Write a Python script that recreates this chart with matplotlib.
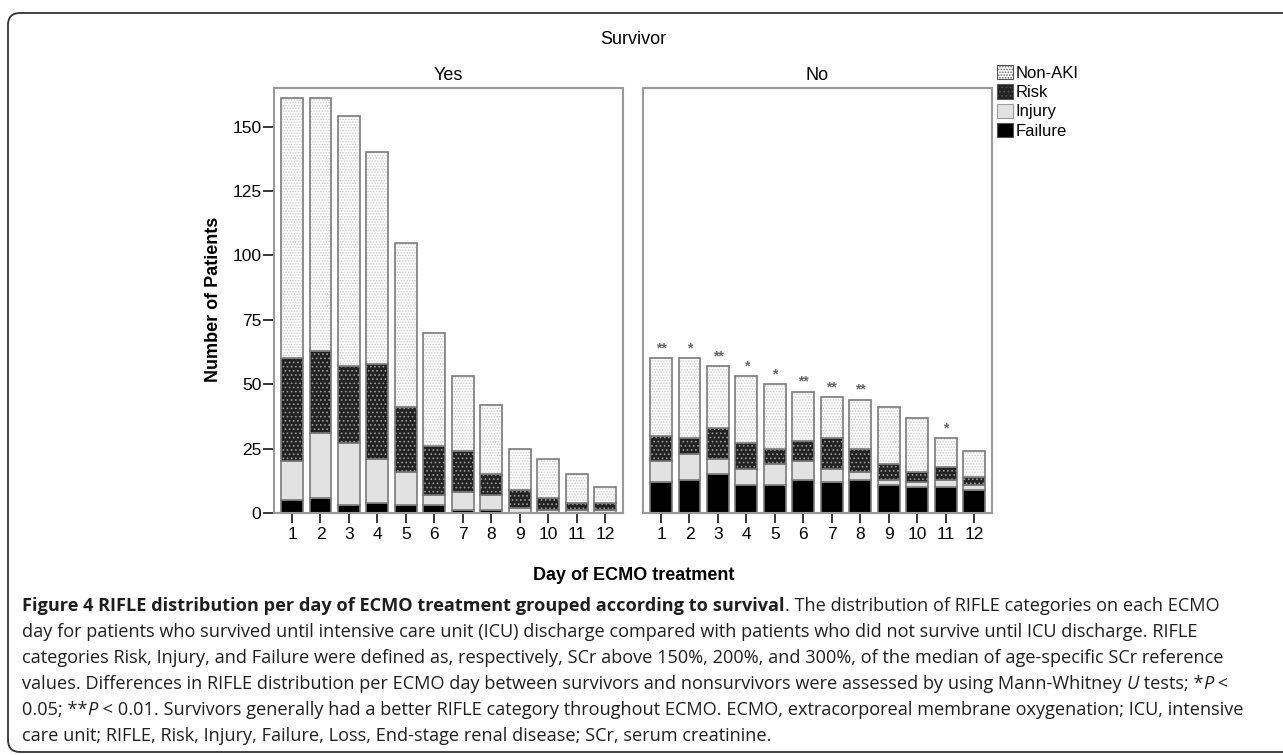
import matplotlib
matplotlib.use("Agg")
import matplotlib.pyplot as plt
from matplotlib.patches import Patch, FancyBboxPatch
from matplotlib.transforms import IdentityTransform

# ---- data ----
days = list(range(1, 13))
categories = ["Failure", "Injury", "Risk", "Non-AKI"]

# survivors: patients per RIFLE category per ECMO day
yes_failure = [5, 6, 3, 4, 3, 3, 1, 1, 0, 0, 0, 0]
yes_injury = [15, 25, 24, 17, 13, 4, 7, 6, 2, 1, 1, 1]
yes_risk = [40, 32, 30, 37, 25, 19, 16, 8, 7, 5, 3, 3]
yes_nonaki = [101, 98, 97, 82, 64, 44, 29, 27, 16, 15, 11, 6]

# nonsurvivors
no_failure = [12, 13, 15, 11, 11, 13, 12, 13, 11, 10, 10, 9]
no_injury = [8, 10, 6, 6, 8, 7, 5, 3, 2, 2, 3, 2]
no_risk = [10, 6, 12, 10, 6, 8, 12, 9, 6, 4, 5, 3]
no_nonaki = [30, 31, 24, 26, 25, 19, 16, 19, 22, 21, 11, 10]

# Mann-Whitney U significance per day
signif = ["**", "*", "**", "*", "*", "**", "**", "**", "", "", "*", ""]

yticks = [0, 25, 50, 75, 100, 125, 150]

# ---- styles ----
styles = {
    "Failure": dict(color="black", hatch=None, hatchcol="black"),
    "Injury": dict(color="#e2e2e2", hatch=None, hatchcol="#e2e2e2"),
    "Risk": dict(color="#222222", hatch="....", hatchcol="#9a9a9a"),
    "Non-AKI": dict(color="#fbfbfb", hatch="......", hatchcol="#cdcdcd"),
}
plt.rcParams["hatch.linewidth"] = 0.7
plt.rcParams["font.family"] = ["Liberation Sans", "DejaVu Sans"]

W, H = 1283, 755


def fx(x):
    return x / W


def fy(y):
    return 1 - y / H


def draw_panel(ax, segs, stars=None):
    """
    Stacked bars, drawn in two passes: pattern fill, then grey outline
    """
    bottom = [0] * len(days)
    for cat in categories:
        vals = segs[cat]
        st = styles[cat]
        ax.bar(days, vals, 0.77, bottom=bottom, color=st["color"],
               hatch=st["hatch"], edgecolor=st["hatchcol"], linewidth=0)
        ax.bar(days, vals, 0.77, bottom=bottom, fill=False,
               edgecolor="#7a7a7a", linewidth=1.2)
        bottom = [b + v for b, v in zip(bottom, vals)]

    if stars is not None:
        for d, tot, s in zip(days, bottom, stars):
            if s:
                ax.text(d, tot + 1.2, s, ha="center", va="bottom",
                        fontsize=10, color="#666666", fontweight="bold")

    ax.set_xlim(0.367, 12.63)
    ax.set_ylim(0, 165)
    ax.set_xticks(days)
    ax.tick_params(axis="x", length=7, width=1.1, color="black",
                   labelsize=12.5, pad=3)
    for sp in ax.spines.values():
        sp.set_color("#9a9a9a")
        sp.set_linewidth(1.5)


fig = plt.figure(figsize=(12.83, 7.55), dpi=100)

ax_yes = fig.add_axes([fx(274), fy(513), 349 / W, 425 / H])
ax_no = fig.add_axes([fx(643), fy(513), 349 / W, 425 / H])

draw_panel(ax_yes, {"Failure": yes_failure, "Injury": yes_injury,
                    "Risk": yes_risk, "Non-AKI": yes_nonaki})
draw_panel(ax_no, {"Failure": no_failure, "Injury": no_injury,
                   "Risk": no_risk, "Non-AKI": no_nonaki}, signif)

ax_yes.set_yticks(yticks)
ax_yes.tick_params(axis="y", length=8, width=1.1, color="black",
                   labelsize=12.5, pad=1)
ax_no.set_yticks([])

# panel headers
ax_yes.set_title("Yes", fontsize=13, pad=6)
ax_no.set_title("No", fontsize=13, pad=6)
fig.text(fx(633), fy(40), "Survivor", fontsize=13, ha="center", va="center")

# axis titles
fig.text(fx(214), fy(299), "Number of Patients", fontsize=13, fontweight="bold",
         rotation=90, ha="center", va="center")
fig.text(fx(634), fy(575), "Day of ECMO treatment", fontsize=13,
         fontweight="bold", ha="center", va="center")

# legend
handles = []
for cat in ["Non-AKI", "Risk", "Injury", "Failure"]:
    st = styles[cat]
    handles.append(Patch(facecolor=st["color"], hatch=st["hatch"],
                         edgecolor="#555555" if cat != "Injury" else "#9a9a9a",
                         linewidth=0.8, label=cat))
fig.legend(handles=handles, loc="upper left", bbox_to_anchor=(fx(997), fy(65)),
           frameon=False, fontsize=12, handlelength=0.95, handleheight=0.95,
           handletextpad=0.15, labelspacing=0.2, borderpad=0, borderaxespad=0)

# outer rounded frame
frame = FancyBboxPatch((8, H - 752), 1300, 739,
                       boxstyle="round,pad=0,rounding_size=12",
                       fill=False, edgecolor="#333333", linewidth=1.3,
                       transform=IdentityTransform())
fig.add_artist(frame)

# caption, written run by run so bold / italic parts line up
caption = [
    [("Figure 4 RIFLE distribution per day of ECMO treatment grouped according to survival", "bold", "normal"),
     (". The distribution of RIFLE categories on each ECMO", "normal", "normal")],
    [("day for patients who survived until intensive care unit (ICU) discharge compared with patients who did not survive until ICU discharge. RIFLE", "normal", "normal")],
    [("categories Risk, Injury, and Failure were defined as, respectively, SCr above 150%, 200%, and 300%, of the median of age-specific SCr reference", "normal", "normal")],
    [("values. Differences in RIFLE distribution per ECMO day between survivors and nonsurvivors were assessed by using Mann-Whitney ", "normal", "normal"),
     ("U", "normal", "italic"), (" tests; *", "normal", "normal"),
     ("P", "normal", "italic"), (" <", "normal", "normal")],
    [("0.05; **", "normal", "normal"), ("P", "normal", "italic"),
     (" < 0.01. Survivors generally had a better RIFLE category throughout ECMO. ECMO, extracorporeal membrane oxygenation; ICU, intensive", "normal", "normal")],
    [("care unit; RIFLE, Risk, Injury, Failure, Loss, End-stage renal disease; SCr, serum creatinine.", "normal", "normal")],
]
baselines = [611, 637, 663, 689, 715, 741]

renderer = fig.canvas.get_renderer()
for runs, yb in zip(caption, baselines):
    x = 22
    for txt, weight, style in runs:
        t = fig.text(fx(x), fy(yb), txt, fontsize=13.1, family=["Open Sans", "DejaVu Sans"],
                     fontweight=weight, fontstyle=style, va="baseline",
                     color="#1e1e1e")
        x += t.get_window_extent(renderer).width

fig.savefig("out.png", dpi=100)
